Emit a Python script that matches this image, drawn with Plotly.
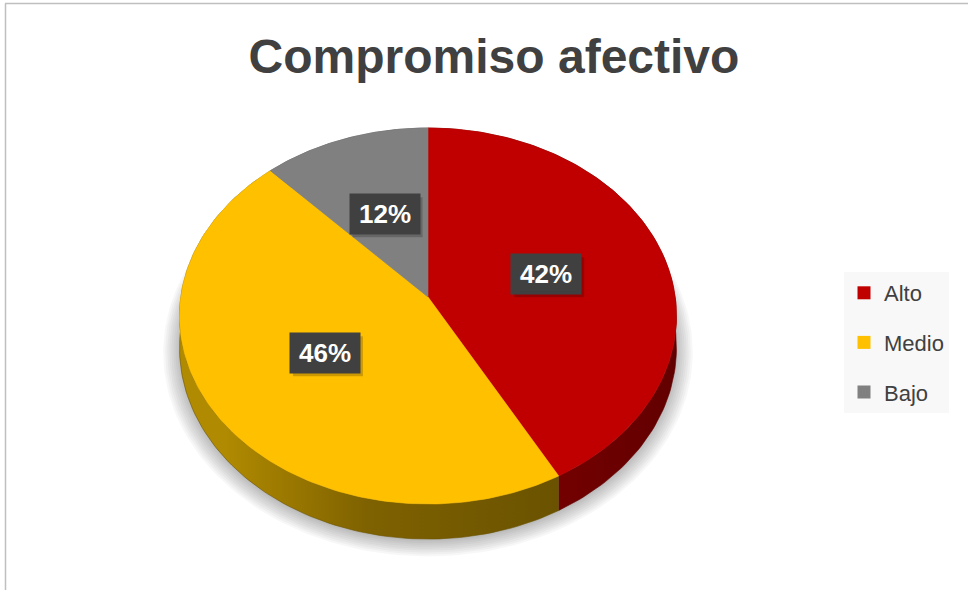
import numpy as np
import plotly.graph_objects as go

# ---- data ----
categories = ["Alto", "Medio", "Bajo"]
values = [42, 46, 12]
top_colors = ["#C00000", "#FFC000", "#808080"]
side_light = ["#860000", "#b08a00", "#6a6a6a"]
side_dark = ["#620000", "#6a5200", "#505050"]

# ---- geometry of the 3D-looking pie (pixel space) ----
CX, CY = 428.0, 297.0     # apex of the slices
A, B, K = 247.2, 186.1, 0.1011  # horizontal radius, vertical radius, perspective
T = 31.5                  # thickness
FONT = "Liberation Sans, Arial, sans-serif"


def proj(r, theta, z=0.0):
    u = r * np.sin(theta)
    v = r * np.cos(theta)
    d = 1 + K * v
    return CX + A * u / d, CY - B * v / d + z / d


total = float(sum(values))
fracs = [v / total for v in values]
starts = np.concatenate([[0.0], np.cumsum(fracs)[:-1]]) * 2 * np.pi
ends = np.cumsum(fracs) * 2 * np.pi

fig = go.Figure()

# soft shadow
full = np.linspace(0, 2 * np.pi, 241)
for s in np.linspace(1.065, 1.0, 9):
    xs, ys = proj(s, full, T)
    fig.add_trace(go.Scatter(x=xs, y=ys + 2, fill="toself", mode="lines",
                             line=dict(width=0), fillcolor="rgba(0,0,0,0.03)",
                             hoverinfo="skip", showlegend=False))

# sides
for i, (a0, a1) in enumerate(zip(starts, ends)):
    th = np.linspace(a0, a1, 120)
    xt, yt = proj(1.0, th, 0)
    xb, yb = proj(1.0, th[::-1], T)
    if i == 1:
        cs = [[0, side_light[i]], [0.12, side_light[i]], [0.5, "#7e6100"], [1, side_dark[i]]]
    else:
        cs = [[0, side_light[i]], [1, side_dark[i]]]
    fig.add_trace(go.Scatter(x=np.concatenate([xt, xb]), y=np.concatenate([yt, yb]),
                             fill="toself", mode="lines",
                             line=dict(width=0.6, color=side_dark[i]),
                             fillgradient=dict(type="horizontal", colorscale=cs),
                             hoverinfo="skip", showlegend=False))

# top faces
for i, (a0, a1) in enumerate(zip(starts, ends)):
    th = np.linspace(a0, a1, 160)
    xt, yt = proj(1.0, th, 0)
    xs = np.concatenate([[CX], xt, [CX]])
    ys = np.concatenate([[CY], yt, [CY]])
    fig.add_trace(go.Scatter(x=xs, y=ys, fill="toself", mode="lines",
                             line=dict(width=0.6, color=top_colors[i]),
                             fillcolor=top_colors[i], name=categories[i],
                             hoveron="fills",
                             text=f"{categories[i]}: {values[i]}%",
                             hoverinfo="text", showlegend=False))

# legend entries
for i, c in enumerate(categories):
    fig.add_trace(go.Scatter(x=[None], y=[None], mode="markers", name=c,
                             legendgroup=c,
                             marker=dict(symbol="square", size=13, color=top_colors[i])))

# data labels
BW, BH = 70, 40
for i, (a0, a1) in enumerate(zip(starts, ends)):
    mid = (a0 + a1) / 2
    lx, ly = proj(0.5, mid, 0)
    fig.add_shape(type="rect", xref="x", yref="y",
                  x0=lx - BW / 2 + 3, x1=lx + BW / 2 + 3,
                  y0=ly - BH / 2 + 3, y1=ly + BH / 2 + 3,
                  fillcolor="rgba(0,0,0,0.2)", line=dict(width=0), layer="above")
    fig.add_annotation(x=lx, y=ly, xref="x", yref="y",
                       text=f"<b>{round(values[i])}%</b>", showarrow=False,
                       width=BW - 8, height=BH - 8, borderpad=4, bgcolor="#404040",
                       font=dict(family=FONT, size=26, color="#ffffff"))

# chart border
fig.add_shape(type="line", xref="paper", yref="paper", x0=5 / 968, x1=1.01,
              y0=1 - 3.5 / 590, y1=1 - 3.5 / 590, line=dict(color="#bfbfbf", width=1.5))
fig.add_shape(type="line", xref="paper", yref="paper", x0=5.5 / 968, x1=5.5 / 968,
              y0=-0.01, y1=1 - 3.5 / 590, line=dict(color="#bfbfbf", width=1.5))

fig.update_layout(
    width=968, height=590,
    margin=dict(l=0, r=0, t=0, b=0),
    paper_bgcolor="white", plot_bgcolor="white",
    title=dict(text="<b>Compromiso afectivo</b>", x=494 / 968, xanchor="center",
               y=1 - 56 / 590, yanchor="middle", yref="container",
               font=dict(family=FONT, size=48, color="#404040")),
    xaxis=dict(range=[0, 968], visible=False, fixedrange=True),
    yaxis=dict(range=[590, 0], visible=False, fixedrange=True),
    legend=dict(x=844 / 968, y=1 - 272 / 590, xanchor="left", yanchor="top",
                bgcolor="#f8f8f8", font=dict(family=FONT, size=22, color="#404040"),
                tracegroupgap=18, itemclick=False, itemdoubleclick=False),
    showlegend=True,
)

fig.write_html("out.html")
